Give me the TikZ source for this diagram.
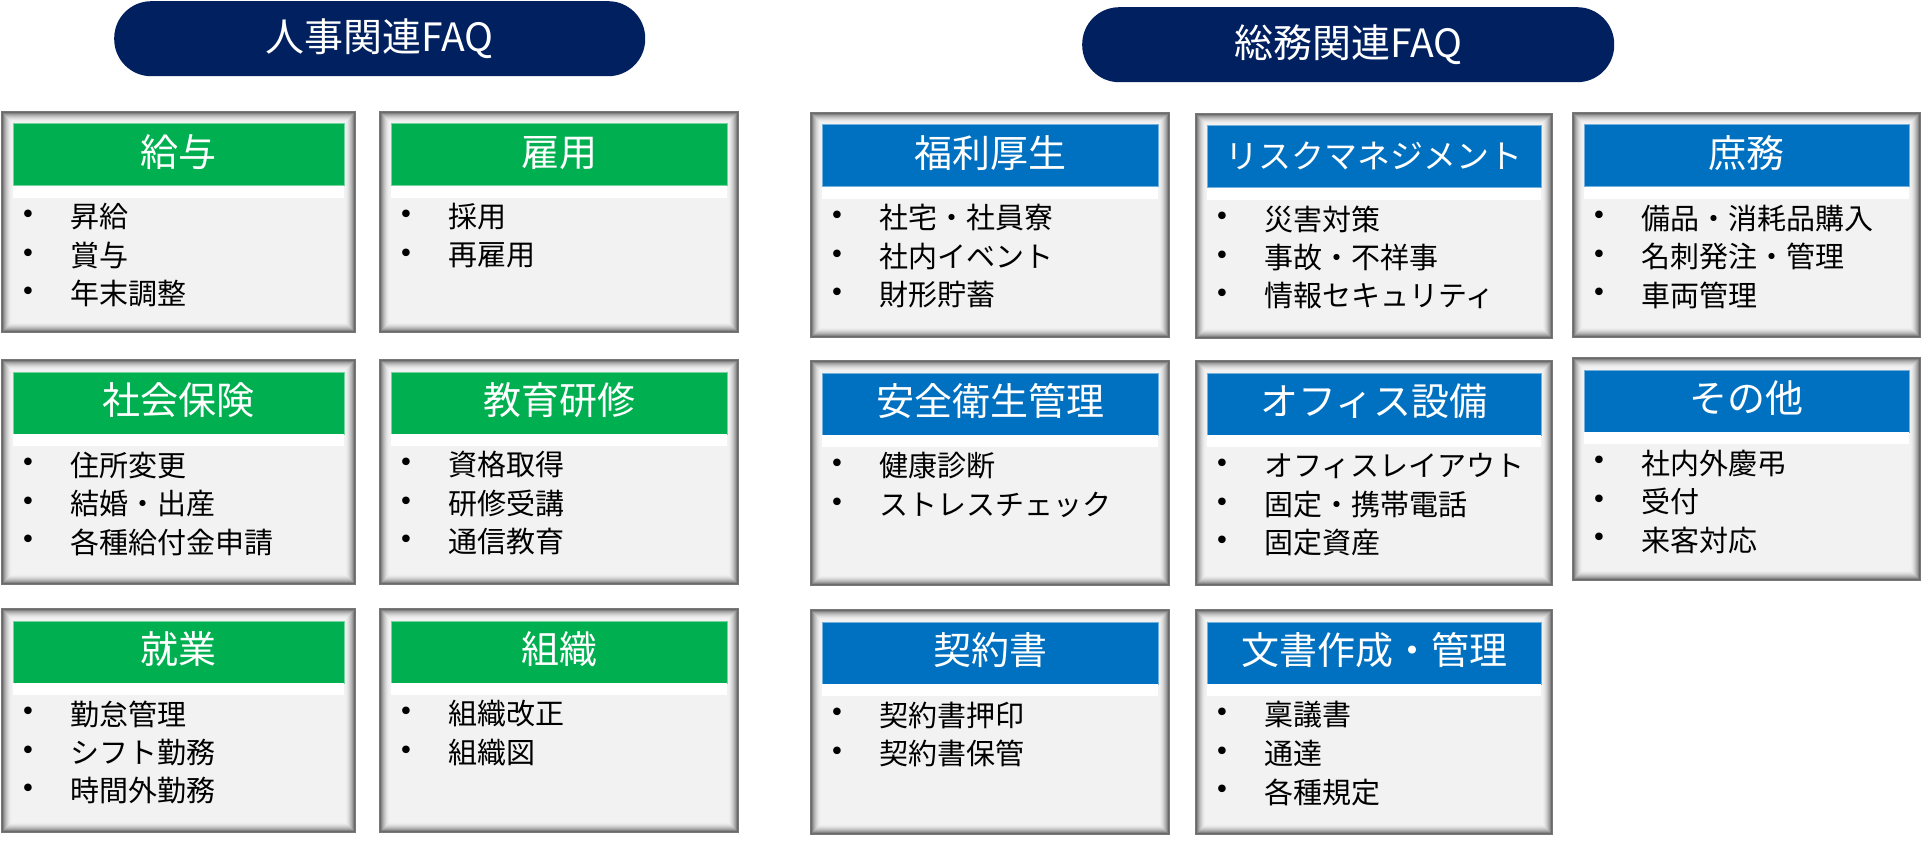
\documentclass[tikz,border=0pt]{standalone}
\usepackage{fontspec}
\newfontfamily\jp{Noto Sans CJK JP}
\newfontfamily\bulfont{DejaVu Sans}
\usetikzlibrary{calc}
\definecolor{navy}{HTML}{002060}
\definecolor{hrgreen}{HTML}{00B050}
\definecolor{gablue}{HTML}{0070C0}
\definecolor{cardbg}{HTML}{F2F2F2}
\definecolor{cardedge}{HTML}{6A6A6A}
\tikzset{
  pill/.style={fill=navy, rounded corners=37pt, text=white, inner sep=0pt,
    font=\jp\fontsize{39}{44}\selectfont},
  card/.style={inner sep=0pt, outer sep=0pt, fill=cardbg,
    path picture={
      \foreach \i/\p in {0/10,1/0,2/20,3/38,4/52,5/64,6/75,7/84,8/91,9/96,10/99}{
        \fill[cardbg!\p!cardedge]
          ([xshift=\i pt, yshift=-\i pt]path picture bounding box.north west)
          rectangle ([xshift=-\i pt, yshift=\i pt]path picture bounding box.south east);
      }
      \fill[cardbg] ([xshift=11pt, yshift=-11pt]path picture bounding box.north west)
          rectangle ([xshift=-11pt, yshift=11pt]path picture bounding box.south east);
    }},
  hdr/.style={inner sep=0pt, outer sep=0pt, text=white, minimum height=62pt,
    text height=30pt, text depth=6.8pt,
    font=\jp\fontsize{38}{44}\selectfont},
  bul/.style={inner sep=0pt, font=\bulfont\fontsize{26}{30}\selectfont},
  itm/.style={inner sep=0pt, anchor=west, font=\jp\fontsize{29}{34}\selectfont}
}
\newcommand\faqcard[8]{%
  \pgfmathsetmacro\cw{#4-#2}%
  \pgfmathsetmacro\ch{#5-#3}%
  \pgfmathsetmacro\hw{#4-#2-24}%
  \node[card, anchor=north west, minimum width=\cw pt, minimum height=\ch pt] (#1) at (#2,#3) {};
  \node[hdr, fill=#6, draw=#6!55!white, line width=1pt, anchor=north west, minimum width=\hw pt]
    (#1h) at ($(#1.north west)+(12,13)$) {#7};
  \fill[white] (#1h.south west) rectangle ($(#1h.south east)+(0,12)$);
  \foreach \t [count=\k] in {#8}{
    \node[bul] (#1b\k) at ($(#1.north west)+(27,{106+38.5*(\k-1)})$) {•};
    \node[itm] (#1i\k) at ($(#1.north west)+(69,{106+38.5*(\k-1)})$) {\t};
  }%
}
\begin{document}
\begin{tikzpicture}[x=1pt,y=-1pt]
\useasboundingbox[fill=white] (0,0) rectangle (1927,842);
% titles
\node[pill, minimum width=531pt, minimum height=75pt, anchor=north west] (hr) at (114,1) {人事関連FAQ};
\node[pill, minimum width=532pt, minimum height=75pt, anchor=north west] (ga) at (1082,7) {総務関連FAQ};
% HR cards
\faqcard{c1}{1}{111}{356}{333}{hrgreen}{給与}{昇給,賞与,年末調整}
\faqcard{c2}{379}{111}{739}{333}{hrgreen}{雇用}{採用,再雇用}
\faqcard{c3}{1}{359}{356}{585}{hrgreen}{社会保険}{住所変更,結婚・出産,各種給付金申請}
\faqcard{c4}{379}{359}{739}{585}{hrgreen}{教育研修}{資格取得,研修受講,通信教育}
\faqcard{c5}{1}{608}{356}{833}{hrgreen}{就業}{勤怠管理,シフト勤務,時間外勤務}
\faqcard{c6}{379}{608}{739}{833}{hrgreen}{組織}{組織改正,組織図}
% GA cards
\faqcard{g1}{810}{112}{1170}{338}{gablue}{福利厚生}{社宅・社員寮,社内イベント,財形貯蓄}
\faqcard{g2}{1195}{113}{1553}{339}{gablue}{{\fontsize{33}{40}\selectfont リスクマネジメント}}{災害対策,事故・不祥事,情報セキュリティ}
\faqcard{g3}{1572}{112}{1921}{338}{gablue}{庶務}{備品・消耗品購入,名刺発注・管理,車両管理}
\faqcard{g4}{810}{360}{1170}{586}{gablue}{安全衛生管理}{健康診断,ストレスチェック}
\faqcard{g5}{1195}{360}{1553}{586}{gablue}{オフィス設備}{オフィスレイアウト,固定・携帯電話,固定資産}
\faqcard{g6}{1572}{357}{1921}{581}{gablue}{その他}{社内外慶弔,受付,来客対応}
\faqcard{g7}{810}{609}{1170}{835}{gablue}{契約書}{契約書押印,契約書保管}
\faqcard{g8}{1195}{609}{1553}{835}{gablue}{文書作成・管理}{稟議書,通達,各種規定}
\end{tikzpicture}
\end{document}
